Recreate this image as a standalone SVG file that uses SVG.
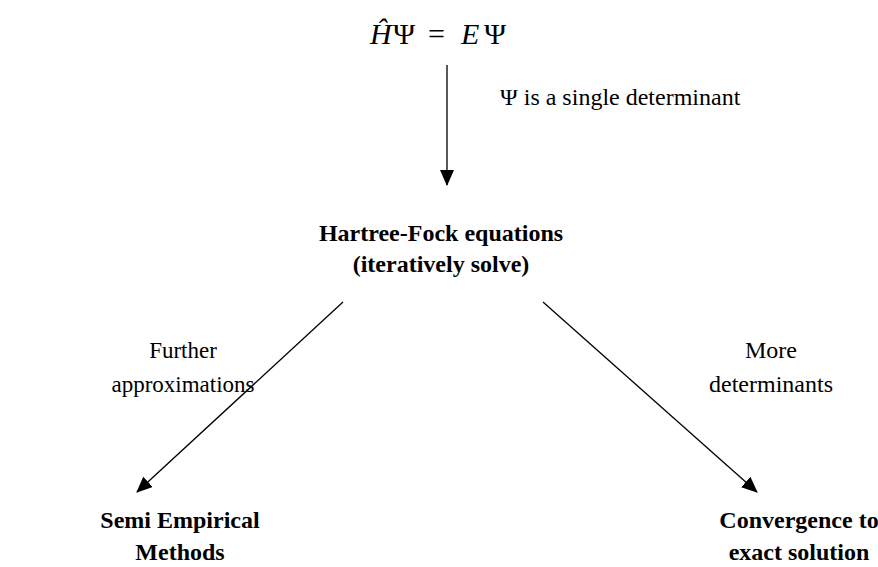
<svg xmlns="http://www.w3.org/2000/svg" width="878" height="567" viewBox="0 0 878 567">
<style>
text{font-family:"Liberation Serif","Times New Roman",serif;fill:#000}
.lbl{font-size:24px}
.node{font-size:24px;font-weight:bold}
.eq{font-size:30px}
.it{font-style:italic}
.c{text-anchor:middle}
.conn{stroke:#000;stroke-width:1.3;fill:none}
</style>
<defs>
<marker id="ah" viewBox="0 0 16 14" refX="15" refY="7" markerWidth="16" markerHeight="14" markerUnits="userSpaceOnUse" orient="auto">
<path d="M0,0 L16,7 L0,14 Z" fill="#000"/>
</marker>
</defs>
<rect width="878" height="567" fill="#fff"/>
<g id="equation">
<text class="eq" y="44"><tspan class="it" x="370">Ĥ</tspan><tspan x="393">Ψ</tspan><tspan x="428">=</tspan><tspan class="it" x="461">E</tspan><tspan x="484">Ψ</tspan></text>
</g>
<g id="hartree-fock">
<text class="node c" x="441" y="241">Hartree-Fock equations</text>
<text class="node c" x="441" y="272">(iteratively solve)</text>
</g>
<g id="semi-empirical">
<text class="node c" x="180" y="528">Semi Empirical</text>
<text class="node c" x="180" y="560">Methods</text>
</g>
<g id="convergence">
<text class="node c" x="799" y="528">Convergence to</text>
<text class="node c" x="799" y="560">exact solution</text>
</g>
<g id="connectors">
<line class="conn" x1="447" y1="65" x2="447" y2="185" marker-end="url(#ah)"/>
<line class="conn" x1="343" y1="302" x2="137" y2="492" marker-end="url(#ah)"/>
<line class="conn" x1="543" y1="302" x2="757" y2="492" marker-end="url(#ah)"/>
<text class="lbl" x="500" y="105">Ψ is a single determinant</text>
<text class="lbl c" x="183" y="358" style="font-size:23px">Further</text>
<text class="lbl c" x="183" y="392" style="font-size:23px">approximations</text>
<text class="lbl c" x="771" y="358">More</text>
<text class="lbl c" x="771" y="392">determinants</text>
</g>
</svg>
